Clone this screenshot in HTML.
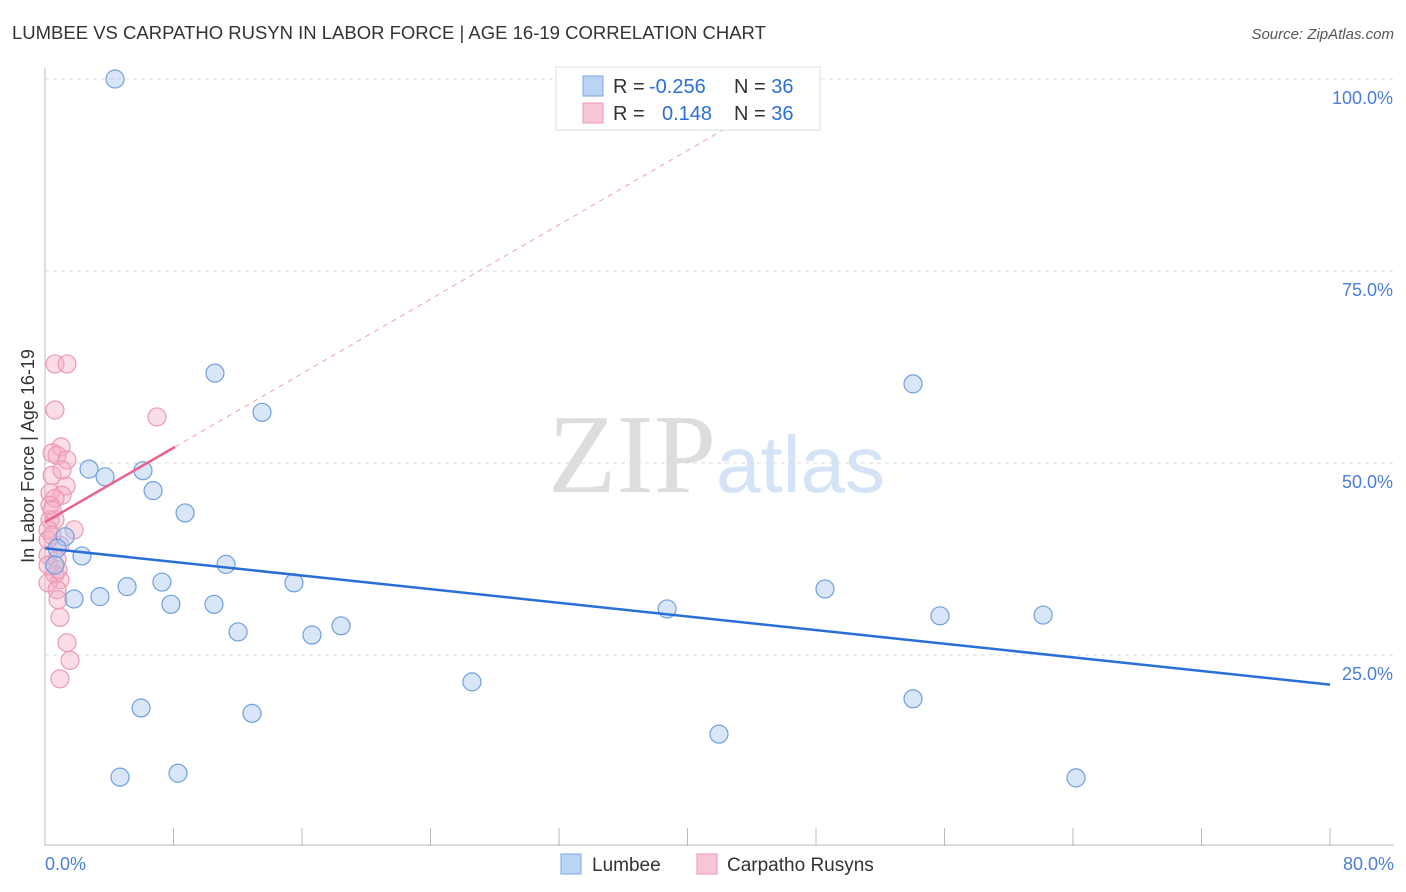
<!DOCTYPE html>
<html><head><meta charset="utf-8"><style>
body{margin:0;background:#fff;font-family:"Liberation Sans",sans-serif;}
</style></head><body>
<svg id="c" width="1406" height="892" style="display:block">
<text x="12" y="39" font-size="18.5" fill="#333">LUMBEE VS CARPATHO RUSYN IN LABOR FORCE | AGE 16-19 CORRELATION CHART</text>
<text x="1394" y="39" font-size="15" fill="#555" font-style="italic" text-anchor="end">Source: ZipAtlas.com</text>
<text x="0" y="0" transform="translate(34,456) rotate(-90)" font-size="18" fill="#333" text-anchor="middle">In Labor Force | Age 16-19</text>
<text x="716" y="492" font-size="112" fill="#ddd" font-family="Liberation Serif,serif" text-anchor="end">ZIP</text>
<text x="716" y="492" font-size="80" fill="#d4e3f6">atlas</text>
<g id="grid"></g><g id="axes"></g><g id="pts"></g><g id="lines"></g>
<g>
<rect x="556" y="67" width="264" height="63" fill="#fff" stroke="#ddd"/>
<rect x="583" y="76" width="20" height="20" fill="#bcd4f4" stroke="#7aa6e0"/>
<rect x="583" y="103" width="20" height="20" fill="#f8c6d4" stroke="#ea9ab2"/>
<text x="613" y="93" font-size="20" fill="#333">R = <tspan x="649" fill="#2a6fd6">-0.256</tspan></text>
<text x="734" y="93" font-size="20" fill="#333">N = <tspan fill="#2a6fd6">36</tspan></text>
<text x="613" y="120" font-size="20" fill="#333">R = <tspan x="662" fill="#2a6fd6">0.148</tspan></text>
<text x="734" y="120" font-size="20" fill="#333">N = <tspan fill="#2a6fd6">36</tspan></text>
</g>
<g>
<rect x="561" y="854" width="20" height="20" fill="#bcd4f4" stroke="#7aa6e0"/>
<text x="592" y="871" font-size="19" fill="#333">Lumbee</text>
<rect x="697" y="854" width="20" height="20" fill="#f8c6d4" stroke="#ea9ab2"/>
<text x="727" y="871" font-size="19" fill="#333">Carpatho Rusyns</text>
</g>
</svg>
<script>
const blueX=[4.36,10.58,13.51,2.74,3.74,6.10,6.73,8.72,1.25,2.30,0.75,11.27,7.28,5.11,3.42,1.81,7.84,10.52,15.50,12.02,16.62,18.43,5.98,12.89,26.58,4.67,8.28,38.73,48.56,54.04,55.72,62.14,54.04,41.96,64.19,0.62];
const blueY=[100.0,61.7,56.6,49.2,48.2,49.0,46.4,43.5,40.4,37.9,38.9,36.8,34.5,33.9,32.6,32.3,31.6,31.6,34.4,28.0,27.6,28.8,18.1,17.4,21.5,9.1,9.6,31.0,33.6,60.3,30.1,30.2,19.3,14.7,9.0,36.7];
const pinkX=[0.62,1.37,0.62,6.97,1.0,0.44,0.75,1.37,0.44,1.31,0.31,1.06,0.62,0.31,0.62,1.81,0.19,0.93,0.19,0.75,0.62,0.93,0.19,0.75,0.81,0.93,1.37,1.56,0.93,0.19,0.31,0.44,0.19,1.06,0.44,0.81];
const pinkY=[62.9,62.9,56.9,56.0,52.1,51.3,51.0,50.4,48.4,47.0,46.1,45.8,45.4,42.6,42.6,41.3,41.3,39.3,38.0,37.4,35.5,34.8,34.4,33.5,32.2,29.9,26.6,24.3,21.9,40.0,44.5,43.9,36.7,49.1,40.6,36.1];
const blueTrend=[38.9,-0.222];
const pinkTrend=[42.3,1.21];
const pinkSolidEnd=8.1;
const yTicks=[25,50,75,100];
const xTickLabels=["0.0%","80.0%"];
const NS="http://www.w3.org/2000/svg";
const X=v=>45+v/80*1285, Y=v=>847-v/100*768;
function mk(t,a,p){const e=document.createElementNS(NS,t);for(const k in a)e.setAttribute(k,a[k]);p.appendChild(e);return e;}
const grid=document.getElementById('grid'),axes=document.getElementById('axes'),pts=document.getElementById('pts'),lines=document.getElementById('lines');
yTicks.forEach(t=>{
 const l=mk('line',{x1:45,x2:1394,y1:Y(t),y2:Y(t),stroke:'#ddd','stroke-dasharray':'4,4'},grid);
 
 
 const tx=mk('text',{x:1393,y:Y(t)+25,'font-size':18,fill:'#4a7fd4','text-anchor':'end'},axes);
 tx.textContent=t.toFixed(1)+'%';
 
 
});
mk('line',{x1:45,x2:45,y1:68,y2:846,stroke:'#bbb'},axes);
mk('line',{x1:45,x2:1394,y1:845,y2:845,stroke:'#bbb'},axes);
for(let i=0;i<=10;i++){
 const tk=mk('line',{x1:X(i*8),x2:X(i*8),y1:828,y2:846,stroke:'#bbb'},axes);
 
 
}
[[0,'start',45],[1,'end',1394]].forEach(([i,a,x])=>{
 const t=mk('text',{x:x,y:870,'font-size':18,fill:'#4a7fd4','text-anchor':a},axes);
 t.textContent=xTickLabels[i];
 
 
});
function dots(xs,ys,fill,stroke,name){xs.forEach((x,i)=>{
 const c=mk('circle',{cx:X(x),cy:Y(ys[i]),r:9,fill:fill,stroke:stroke,'stroke-width':1.2},pts);
 
 
});}
dots(pinkX,pinkY,'rgba(245,170,195,0.4)','#eb9ab3','point-carpatho');
dots(blueX,blueY,'rgba(168,200,240,0.45)','#6f9fe0','point-lumbee');
const [ba,bb]=blueTrend;
const bl=mk('line',{x1:X(0),y1:Y(ba),x2:X(80),y2:Y(ba+bb*80),stroke:'#2a6fd6','stroke-width':2.5},lines);


const [pa,pb]=pinkTrend;
const pmax=pinkSolidEnd;
const pend=Math.min(80,(100-pa)/pb);
const pd=mk('line',{x1:X(pmax),y1:Y(pa+pb*pmax),x2:X(pend),y2:Y(pa+pb*pend),stroke:'#eaa0b8','stroke-width':1,'stroke-dasharray':'5,5'},lines);


const pl=mk('line',{x1:X(0),y1:Y(pa),x2:X(pmax),y2:Y(pa+pb*pmax),stroke:'#e8648c','stroke-width':2.5},lines);


</script>
</body></html>
